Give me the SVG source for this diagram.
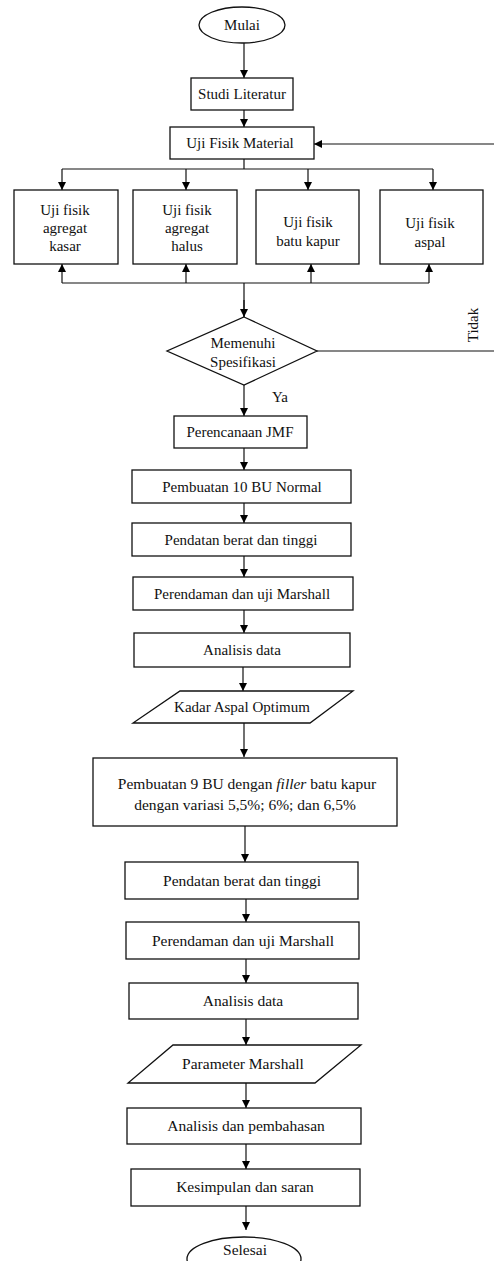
<svg xmlns="http://www.w3.org/2000/svg" width="494" height="1261" viewBox="0 0 494 1261">
<defs>
<marker id="ah" viewBox="0 0 10 10" refX="10" refY="5" markerWidth="8" markerHeight="8" markerUnits="userSpaceOnUse" orient="auto">
<path d="M0,0 L10,5 L0,10 z" fill="#000"/>
</marker>
</defs>
<style>
.s{fill:#fff;stroke:#111;stroke-width:1.3}
.c{fill:none;stroke:#111;stroke-width:1.2}
.a{fill:none;stroke:#111;stroke-width:1.2;marker-end:url(#ah)}
text{font-family:'Liberation Serif','DejaVu Serif',Times,serif;font-size:15px;fill:#111;text-anchor:middle}
.b{font-size:15.5px}
</style>
<rect width="494" height="1261" fill="#fff"/>
<g id="connectors">
<path class="a" d="M244,43 V78"/>
<path class="a" d="M244,110 V127"/>
<path class="a" d="M494,144 H314"/>
<path class="c" d="M244,159 V169 M62,169 H433"/>
<path class="a" d="M62,169 V190"/>
<path class="a" d="M186,169 V190"/>
<path class="a" d="M308,169 V190"/>
<path class="a" d="M433,169 V190"/>
<path class="c" d="M62,283 H429 M244,283 V317"/>
<path class="a" d="M62,283 V264"/>
<path class="a" d="M186,283 V264"/>
<path class="a" d="M311,283 V264"/>
<path class="a" d="M429,283 V264"/>
<path class="a" d="M244,300 V317"/>
<path class="c" d="M317,351 H494"/>
<path class="a" d="M244,385 V416"/>
<path class="a" d="M244,448 V470"/>
<path class="a" d="M244,503 V523"/>
<path class="a" d="M244,556 V577"/>
<path class="a" d="M244,610 V633"/>
<path class="a" d="M243,667 V691"/>
<path class="a" d="M244,723 V757"/>
<path class="a" d="M245,826 V862"/>
<path class="a" d="M246,899 V922"/>
<path class="a" d="M246,959 V983"/>
<path class="a" d="M246,1019 V1045"/>
<path class="a" d="M246,1083 V1108"/>
<path class="a" d="M246,1144 V1169"/>
<path class="a" d="M246,1206 V1230"/>
</g>
<g id="mulai"><ellipse class="s" cx="242" cy="25" rx="43" ry="18"/><text x="242" y="30">Mulai</text></g>
<g id="studi"><rect class="s" x="191" y="78" width="102" height="32"/><text x="242" y="99">Studi Literatur</text></g>
<g id="ujifisik"><rect class="s" x="170" y="127" width="144" height="32"/><text x="240" y="148">Uji Fisik Material</text></g>
<g id="kasar"><rect class="s" x="14" y="190" width="104" height="74"/><text x="65" y="215">Uji fisik</text><text x="65" y="233">agregat</text><text x="65" y="251">kasar</text></g>
<g id="halus"><rect class="s" x="133" y="190" width="104" height="74"/><text x="187" y="215">Uji fisik</text><text x="187" y="233">agregat</text><text x="187" y="251">halus</text></g>
<g id="kapur"><rect class="s" x="256" y="190" width="103" height="74"/><text x="308" y="227">Uji fisik</text><text x="308" y="246">batu kapur</text></g>
<g id="aspal"><rect class="s" x="380" y="190" width="103" height="74"/><text x="430" y="228">Uji fisik</text><text x="430" y="247">aspal</text></g>
<g id="spesifikasi"><polygon class="s" points="244,317 317,351 244,385 167,351"/><text x="243" y="348">Memenuhi</text><text x="243" y="367">Spesifikasi</text></g>
<g id="labels"><text x="280" y="402">Ya</text><text x="0" y="0" transform="translate(478,325) rotate(-90)">Tidak</text></g>
<g id="jmf"><rect class="s" x="174" y="416" width="133" height="32"/><text x="240" y="437">Perencanaan JMF</text></g>
<g id="bu10"><rect class="s" x="132" y="470" width="219" height="33"/><text x="242" y="492">Pembuatan 10 BU Normal</text></g>
<g id="pendatan1"><rect class="s" x="132" y="523" width="219" height="33"/><text x="241" y="545">Pendatan berat dan tinggi</text></g>
<g id="perendaman1"><rect class="s" x="133" y="577" width="220" height="33"/><text x="242" y="599">Perendaman dan uji Marshall</text></g>
<g id="analisis1"><rect class="s" x="134" y="633" width="216" height="34"/><text x="242" y="655">Analisis data</text></g>
<g id="kao"><polygon class="s" points="180,691 353,691 310,723 133,723"/><text x="242" y="712">Kadar Aspal Optimum</text></g>
<g id="bu9"><rect class="s" x="93" y="758" width="304" height="68"/><text class="b" x="247" y="789">Pembuatan 9 BU dengan <tspan font-style="italic">filler</tspan> batu kapur</text><text class="b" x="245" y="810">dengan variasi 5,5%; 6%; dan 6,5%</text></g>
<g id="pendatan2"><rect class="s" x="125" y="862" width="233" height="37"/><text class="b" x="242" y="886">Pendatan berat dan tinggi</text></g>
<g id="perendaman2"><rect class="s" x="126" y="922" width="233" height="37"/><text class="b" x="243" y="946">Perendaman dan uji Marshall</text></g>
<g id="analisis2"><rect class="s" x="129" y="983" width="229" height="36"/><text class="b" x="243" y="1006">Analisis data</text></g>
<g id="parameter"><polygon class="s" points="173,1045 361,1045 315,1083 128,1083"/><text class="b" x="243" y="1069">Parameter Marshall</text></g>
<g id="pembahasan"><rect class="s" x="127" y="1108" width="234" height="36"/><text class="b" x="246" y="1131">Analisis dan pembahasan</text></g>
<g id="kesimpulan"><rect class="s" x="131" y="1169" width="229" height="37"/><text class="b" x="245" y="1192">Kesimpulan dan saran</text></g>
<g id="selesai"><ellipse class="s" cx="244" cy="1259" rx="57" ry="22"/><text class="b" x="245" y="1255">Selesai</text></g>
</svg>
